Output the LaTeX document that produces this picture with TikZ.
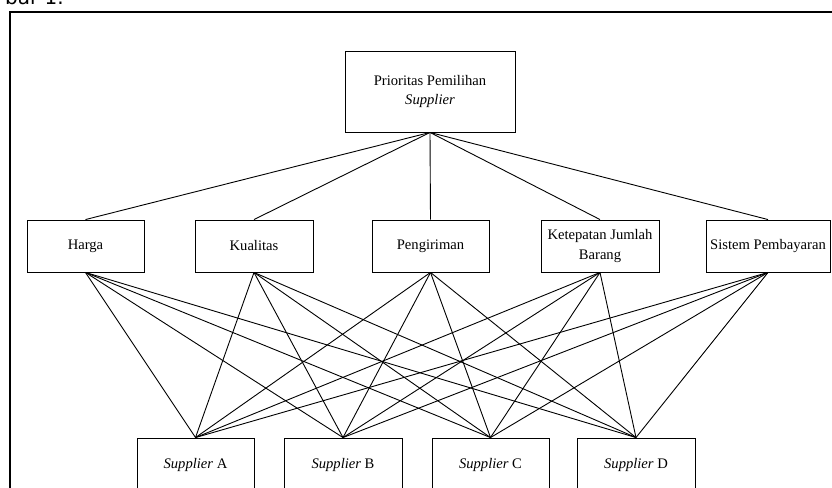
\documentclass[tikz,border=0pt]{standalone}
\usepackage{fontspec}
\setmainfont{Liberation Serif}
\newfontfamily\capfont{DejaVu Sans}
\begin{document}
\begin{tikzpicture}[x=1pt,y=-1pt,
  box/.style={draw,line width=0.9pt,inner sep=0pt,align=center,
    font=\fontsize{14.6}{19.5}\selectfont},
  link/.style={line width=0.9pt}]
\useasboundingbox (0,0) rectangle (832,487);
\clip (0,0) rectangle (832,487);
\fill[white] (0,0) rectangle (832,487);
% partial caption and frame
\node[anchor=base east,inner sep=0pt,font=\capfont\fontsize{20}{24}\selectfont] (cap) at (64,5) {bar 1.};
\draw[line width=2pt] (10,500) -- (10,12) -- (845,12);
% top
\node[box,minimum width=170pt,minimum height=81pt] (top) at (430,91.5) {Prioritas Pemilihan\\\textit{Supplier}};
% middle
\node[box,minimum width=117pt,minimum height=52pt] (h) at (85.5,246) {Harga};
\node[box,minimum width=118pt,minimum height=52pt] (k) at (254,246) {Kualitas};
\node[box,minimum width=117pt,minimum height=52pt] (p) at (430.5,246) {Pengiriman};
\node[box,minimum width=118pt,minimum height=52pt] (j) at (600,246) {Ketepatan Jumlah\\Barang};
\node[box,minimum width=124pt,minimum height=52pt] (s) at (768,246) {Sistem Pembayaran};
% bottom
\node[box,minimum width=117pt,minimum height=54pt] (a) at (195.5,465) {\textit{Supplier} A};
\node[box,minimum width=118pt,minimum height=54pt] (b) at (343,465) {\textit{Supplier} B};
\node[box,minimum width=117pt,minimum height=54pt] (c) at (490.5,465) {\textit{Supplier} C};
\node[box,minimum width=118pt,minimum height=54pt] (d) at (636,465) {\textit{Supplier} D};
% connectors
\foreach \m in {h,k,p,j,s}{
  \draw[link] (top.south) -- (\m.north);
  \foreach \n in {a,b,c,d}{
    \draw[link] (\m.south) -- (\n.north);
  }
}
\end{tikzpicture}
\end{document}
